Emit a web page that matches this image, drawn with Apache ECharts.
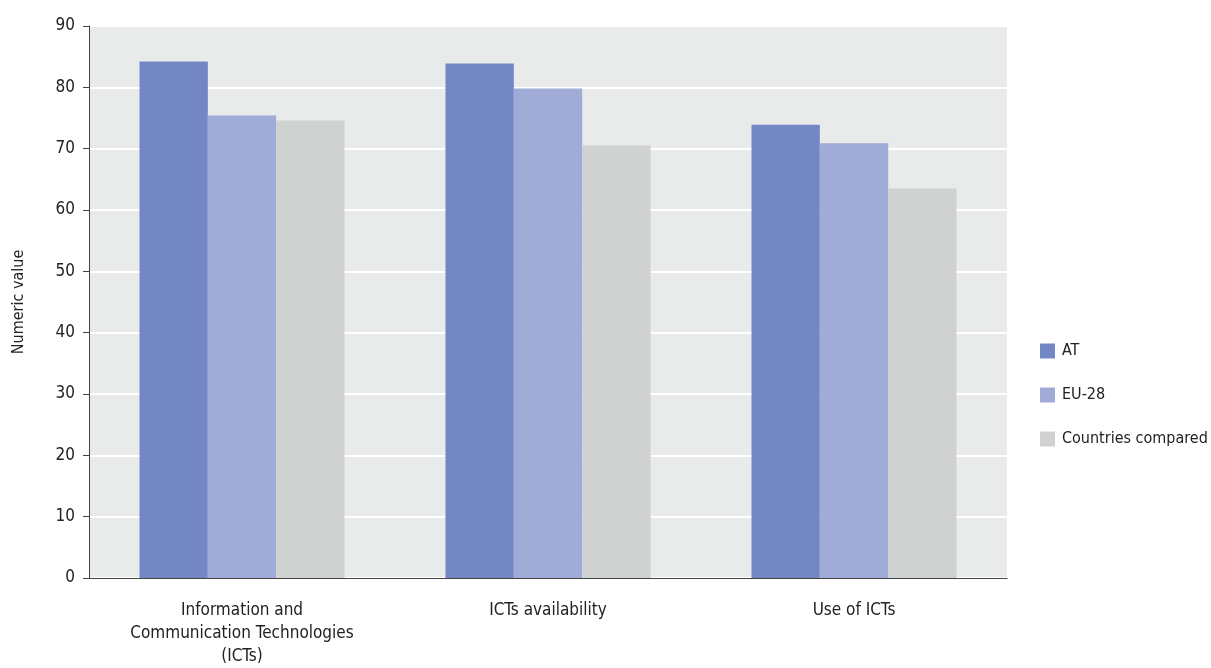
<!DOCTYPE html>
<html><head><meta charset="utf-8">
<script src="https://cdn.jsdelivr.net/npm/echarts@6/dist/echarts.min.js"></script>
<style>html,body{margin:0;padding:0;background:#fff}#c{width:1211px;height:668px}</style>
</head><body><div id="c"></div>
<script>
const categories = ["Information and\nCommunication Technologies\n(ICTs)", "ICTs availability", "Use of ICTs"];
const seriesNames = ["AT", "EU-28", "Countries compared"];
const atValues = [84.2, 83.9, 73.9];
const eu28Values = [75.4, 79.8, 70.9];
const comparedValues = [74.6, 70.5, 63.5];
const yTicks = [0, 10, 20, 30, 40, 50, 60, 70, 80, 90];
const colors = ["#7387c4", "#a0abd8", "#d0d2d1"];
const FONT = "'Liberation Sans Narrow', 'DejaVu Sans Condensed', sans-serif";

const chart = echarts.init(document.getElementById('c'));
const mk = (name, data, color) => ({
  name, type: 'bar', data, barGap: '0%', barCategoryGap: '33%',
  itemStyle: { color }, emphasis: { disabled: true }
});
chart.setOption({
  animation: false,
  textStyle: { fontFamily: FONT },
  grid: { left: 89, right: 204, top: 26, bottom: 89, show: true, backgroundColor: '#e9eaea', borderWidth: 0 },
  legend: {
    orient: 'vertical', left: 1035, top: 338, itemWidth: 15, itemHeight: 15, itemGap: 28,
    icon: 'rect', textStyle: { fontFamily: FONT, fontSize: 16, color: '#222', padding: [0, 0, 0, 2] },
    data: seriesNames
  },
  xAxis: {
    type: 'category', data: categories,
    axisLine: { show: true, lineStyle: { color: '#444', width: 1 } },
    axisTick: { show: false },
    axisLabel: { fontFamily: FONT, fontSize: 17, color: '#222', margin: 21, lineHeight: 23, interval: 0 }
  },
  yAxis: {
    type: 'value', min: yTicks[0], max: yTicks[yTicks.length - 1], interval: 10,
    name: 'Numeric value', nameLocation: 'middle', nameGap: 62, nameRotate: 90,
    nameTextStyle: { fontFamily: FONT, fontSize: 16, color: '#222' },
    axisLine: { show: true, lineStyle: { color: '#444' } },
    axisTick: { show: true, length: 6, lineStyle: { color: '#444' } },
    axisLabel: { fontFamily: FONT, fontSize: 17, color: '#222', margin: 14 },
    splitLine: { show: true, lineStyle: { color: '#ffffff', width: 2 } }
  },
  series: [
    mk(seriesNames[0], atValues, colors[0]),
    mk(seriesNames[1], eu28Values, colors[1]),
    mk(seriesNames[2], comparedValues, colors[2])
  ]
});
</script></body></html>
